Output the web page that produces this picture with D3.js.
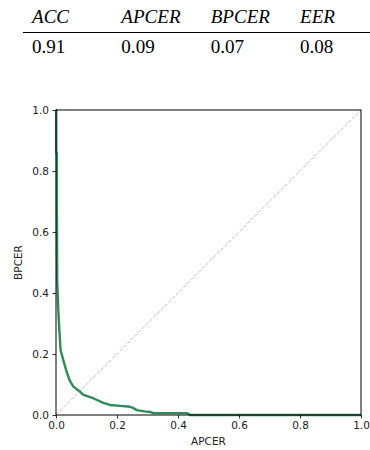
<!DOCTYPE html>
<html lang="en">
<head>
    <meta charset="UTF-8">
    <title>DET curve</title>
    <script src="https://d3js.org/d3.v7.min.js"></script>
    <style>
        body {
            margin: 0;
            background-color: #ffffff;
        }
        .tbl text {
            font-family: "Liberation Serif", "Times New Roman", serif;
            font-size: 18px;
            fill: #000;
        }
        .tbl .head {
            font-style: italic;
        }
        .axis text {
            font-family: "DejaVu Sans", sans-serif;
            font-size: 10.5px;
            fill: #222;
        }
        .axis path {
            display: none;
        }
        .axis line {
            stroke: #000;
            stroke-width: 0.8px;
        }
        .axis-label {
            font-family: "DejaVu Sans", sans-serif;
            font-size: 10.5px;
            fill: #222;
        }
    </style>
</head>
<body>
<svg width="370" height="450"></svg>
<script>
    // metrics table
    const metricNames = ["ACC", "APCER", "BPCER", "EER"];
    const metricValues = ["0.91", "0.09", "0.07", "0.08"];

    // DET curve points
    const apcer = [0, 0.001, 0.001, 0.003, 0.003, 0.004, 0.0075, 0.011, 0.015, 0.024, 0.033, 0.044, 0.057,
        0.079, 0.09, 0.122, 0.155, 0.177, 0.21, 0.243, 0.255, 0.265, 0.29, 0.308, 0.319, 0.43, 0.44, 1.0];
    const bpcer = [1.0, 1.0, 0.86, 0.86, 0.66, 0.44, 0.344, 0.279, 0.213, 0.18, 0.148, 0.115, 0.093,
        0.076, 0.066, 0.055, 0.04, 0.033, 0.03, 0.027, 0.022, 0.016, 0.012, 0.01, 0.006, 0.006, 0.0, 0.0];

    const ticks = [0, 0.2, 0.4, 0.6, 0.8, 1.0];

    const svg = d3.select("svg");

    // table
    const colX = d3.scalePoint().domain(metricNames).range([32, 300]);
    const tbl = svg.append("g").attr("class", "tbl");
    tbl.selectAll("text.head")
        .data(metricNames)
        .join("text")
        .attr("class", "head")
        .attr("transform", d => `translate(${colX(d)},23) scale(1.06,1)`)
        .text(d => d);
    tbl.append("line")
        .attr("x1", 23).attr("x2", 370)
        .attr("y1", 32.5).attr("y2", 32.5)
        .attr("stroke", "#000")
        .attr("stroke-width", 1.2);
    tbl.selectAll("text.val")
        .data(metricValues)
        .join("text")
        .attr("class", "val")
        .attr("transform", (d, i) => `translate(${colX(metricNames[i])},52.5) scale(1.06,1)`)
        .text(d => d);

    // plot
    const margin = {left: 56, top: 110},
        size = 305;
    const g = svg.append("g").attr("transform", `translate(${margin.left},${margin.top})`);

    const x = d3.scaleLinear().domain([0, 1]).range([0, size]);
    const y = d3.scaleLinear().domain([0, 1]).range([size, 0]);

    // chance diagonal
    g.append("line")
        .attr("x1", x(0)).attr("y1", y(0))
        .attr("x2", x(1)).attr("y2", y(1))
        .attr("stroke", "#c8c8c8")
        .attr("stroke-width", 1)
        .attr("stroke-dasharray", "3.7,1.6");

    const pts = apcer.map((a, i) => [a, bpcer[i]]);
    const line = d3.line().x(d => x(d[0])).y(d => y(d[1]));

    g.append("path")
        .datum(pts)
        .attr("fill", "none")
        .attr("stroke", "#2e8b57")
        .attr("stroke-width", 2.4)
        .attr("stroke-linejoin", "round")
        .attr("d", line);

    // frame
    g.append("rect")
        .attr("width", size).attr("height", size)
        .attr("fill", "none")
        .attr("stroke", "#000")
        .attr("stroke-width", 1);

    g.append("g")
        .attr("class", "axis")
        .attr("transform", `translate(0,${size})`)
        .call(d3.axisBottom(x).tickValues(ticks).tickFormat(d3.format(".1f")).tickSize(3.5).tickPadding(3.5));

    g.append("g")
        .attr("class", "axis")
        .call(d3.axisLeft(y).tickValues(ticks).tickFormat(d3.format(".1f")).tickSize(3.5).tickPadding(3.5));

    svg.append("text")
        .attr("class", "axis-label")
        .attr("x", margin.left + size / 2)
        .attr("y", 445)
        .attr("text-anchor", "middle")
        .text("APCER");

    svg.append("text")
        .attr("class", "axis-label")
        .attr("transform", `translate(22,${margin.top + size / 2}) rotate(-90)`)
        .attr("text-anchor", "middle")
        .text("BPCER");
</script>
</body>
</html>
